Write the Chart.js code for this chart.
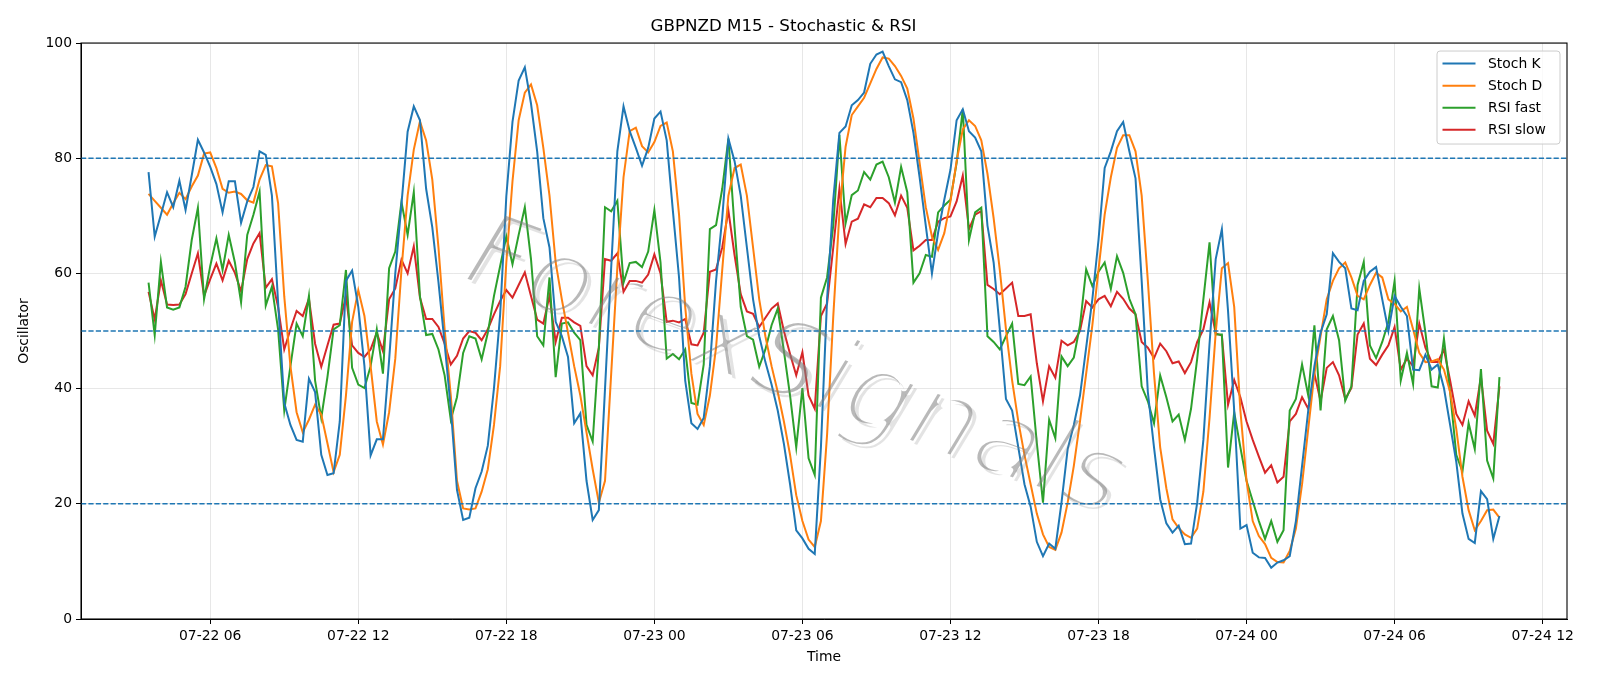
<!DOCTYPE html>
<html>
<head>
<meta charset="utf-8">
<script src="https://cdn.jsdelivr.net/npm/chart.js@4.4.1/dist/chart.umd.min.js"></script>
<style>
  html, body { margin: 0; padding: 0; background: #ffffff; }
  #wrap { width: 1600px; height: 686px; }
</style>
</head>
<body>
<div id="wrap"><canvas id="osc" width="1600" height="686"></canvas></div>
<script>
// time axis: 15 minute bars, hours counted from 07-22 00:00
const MONTH = "07";
const FIRST_DAY = 22;
const START_HOUR = 3.5;
const STEP_HOURS = 0.25;
const TICK_HOURS = [6, 12, 18, 24, 30, 36, 42, 48, 54, 60];
const Y_TICKS = [0, 20, 40, 60, 80, 100];
const LEVELS = [20, 50, 80];
const WATERMARK = "ForexSignals";

const stochK = [77.6,66.4,70.2,74.1,71.5,76.1,71.0,77.0,83.2,81.0, 78.5,75.5,70.6,76.0,76.0,68.8,72.5,75.0,81.2,80.6,
  73.5,55.0,37.5,33.7,31.1,30.8,41.7,39.4,28.5,25.0, 25.3,34.3,58.7,60.5,54.2,43.9,28.4,31.2,31.2,45.0,
  60.0,72.0,84.6,89.0,86.6,74.7,68.0,58.5,47.8,36.5, 22.4,17.2,17.6,22.7,25.6,30.1,40.1,52.9,73.4,86.3,
  93.5,95.8,89.5,81.2,69.6,64.5,51.6,49.1,45.5,34.0, 35.7,24.0,17.2,18.9,40.0,61.0,81.2,89.0,84.7,81.8,
  78.7,81.8,86.9,88.1,83.1,70.9,59.3,41.4,34.0,33.0, 34.9,43.9,58.7,69.6,83.4,79.5,73.5,64.5,55.5,49.1,
  44.6,40.7,36.2,30.4,23.4,15.4,14.0,12.2,11.3,29.8, 55.5,72.8,84.4,85.5,89.2,90.1,91.4,96.4,98.0,98.5,
  96.0,93.7,93.2,90.1,84.4,76.7,68.3,60.0,67.1,72.8, 78.0,86.6,88.5,84.7,83.6,81.2,68.3,61.9,50.3,38.2,
  36.2,29.8,23.4,19.5,13.4,10.9,13.1,12.2,20.2,29.5, 33.7,38.8,47.1,55.5,65.8,78.3,81.2,84.7,86.3,81.2,
  76.5,58.7,39.4,29.8,20.8,16.6,15.0,16.2,13.0,13.1, 20.2,31.1,47.8,62.5,67.7,53.5,36.2,15.7,16.3,11.5,
  10.7,10.6,8.9,9.8,10.2,10.9,17.0,26.6,36.2,43.9, 49.7,52.9,63.5,62.0,60.9,53.9,53.6,58.7,60.3,61.1,
  55.5,50.0,56.1,54.2,52.6,43.3,43.2,45.9,43.3,44.2, 40.1,33.7,27.3,18.3,13.9,13.2,22.2,20.8,13.9,17.9];

const stochD = [73.8,72.6,71.4,70.2,72.2,74.0,72.9,75.1,77.0,80.8, 81.0,78.3,74.7,74.0,74.2,73.8,72.7,72.3,76.3,78.8,
  78.6,72.2,56.0,43.9,35.9,32.4,34.6,37.2,35.5,30.5, 25.5,28.5,38.8,51.6,57.1,52.6,43.9,34.3,30.3,35.9,
  45.2,60.6,73.5,81.5,86.4,83.1,76.3,64.5,50.3,38.8, 24.0,19.2,19.0,19.2,22.1,26.0,33.7,43.9,61.9,76.0,
  86.6,91.4,92.8,89.2,81.8,73.5,61.9,55.5,49.7,43.9, 38.8,32.4,26.0,20.2,24.0,42.6,61.0,76.7,84.7,85.3,
  82.1,81.0,82.8,85.6,86.2,81.2,70.2,54.2,42.6,35.6, 33.7,38.8,47.1,60.6,73.5,78.3,78.9,73.5,64.5,55.5,
  49.1,43.9,39.4,34.3,28.5,21.5,17.0,13.8,12.5,17.0, 32.0,52.5,70.5,82.0,87.5,89.0,90.5,93.0,95.5,97.5,
  97.3,96.0,94.3,92.1,86.9,79.2,71.5,66.4,64.1,67.0, 72.5,79.5,85.0,86.6,85.6,83.1,77.3,69.6,60.6,50.3,
  41.4,34.3,28.5,23.4,18.3,14.7,12.5,12.0,15.0,20.2, 26.6,34.3,42.6,51.0,60.6,70.2,76.7,81.8,84.0,84.0,
  81.2,73.5,58.7,42.6,29.8,22.7,17.3,15.8,14.7,14.1, 15.7,22.1,34.9,49.7,60.9,61.8,54.2,36.2,24.0,17.0,
  14.4,13.0,10.6,9.9,9.8,11.8,15.7,23.4,33.0,42.6, 49.1,55.5,58.7,60.9,61.9,59.3,56.1,55.5,58.0,60.1,
  59.3,55.5,54.7,53.4,54.2,50.3,46.2,44.6,44.7,45.1, 43.3,39.4,33.0,24.7,18.9,15.4,17.0,18.9,19.0,17.6];

const rsiFast = [58.4,49.3,62.0,54.1,53.7,54.1,57.7,65.8,71.4,55.5, 61.3,66.1,60.6,66.7,61.9,55.0,66.7,70.2,74.2,54.4,
  57.7,50.3,36.2,43.9,51.3,49.1,56.1,41.4,34.9,42.0, 50.3,51.0,60.6,43.6,40.7,40.1,43.9,50.3,42.6,60.9,
  63.8,72.4,66.7,74.1,56.0,49.3,49.5,46.8,42.3,34.6, 38.5,46.2,49.1,48.7,45.1,49.7,56.1,61.3,66.4,61.6,
  66.7,71.5,62.5,49.1,47.5,59.3,42.0,51.3,51.5,49.7, 48.4,33.7,30.8,47.1,71.5,70.8,72.6,58.4,61.8,62.0,
  61.1,63.8,71.0,61.9,45.2,46.0,45.1,46.8,37.5,37.2, 44.2,67.7,68.4,74.7,83.4,68.0,54.2,49.1,48.5,43.8,
  46.8,51.0,53.9,46.5,38.8,29.8,40.1,27.9,25.0,55.8, 59.3,68.3,84.0,68.7,73.6,74.4,77.6,76.3,78.9,79.4,
  76.7,72.3,78.5,74.1,58.4,60.0,63.2,62.9,70.6,71.8, 72.8,79.2,88.5,65.8,70.6,71.4,49.1,48.1,46.8,49.1,
  51.3,40.8,40.6,42.1,30.6,20.2,34.6,31.4,45.6,43.9, 45.4,51.0,60.7,57.8,60.3,61.9,57.3,63.0,60.1,55.6,
  52.9,40.4,37.8,34.0,42.3,38.5,34.3,35.5,31.1,36.5, 45.2,55.5,65.4,49.4,49.4,26.3,35.9,29.8,24.0,20.5,
  17.0,13.9,17.0,13.4,15.4,36.2,38.2,44.2,38.8,51.0, 36.2,50.3,52.6,48.4,37.9,40.4,58.0,62.0,47.5,45.3,
  48.1,51.6,58.7,41.4,46.2,40.8,57.4,49.7,40.4,40.2, 48.7,39.4,28.5,25.6,34.0,29.5,43.4,27.5,24.4,42.0];

const rsiSlow = [56.8,52.0,58.8,54.6,54.5,54.6,56.4,60.0,63.5,56.1, 59.0,61.7,58.8,62.2,60.1,56.9,62.5,65.2,67.0,57.5,
  59.0,54.2,46.8,50.3,53.5,52.6,55.6,47.8,43.8,47.5, 51.1,51.3,56.1,47.5,46.2,45.5,46.8,49.7,46.5,55.5,
  57.4,62.4,60.0,64.7,55.8,52.1,52.1,50.7,47.8,44.2, 45.7,48.7,50.0,49.7,48.4,50.3,52.9,55.2,57.1,55.8,
  58.0,60.2,56.1,52.0,51.3,56.1,48.1,52.3,52.3,51.5, 50.9,43.9,42.3,47.1,62.5,62.2,63.5,56.8,58.7,58.7,
  58.4,59.8,63.3,60.0,51.6,51.8,51.5,52.1,47.7,47.5, 49.7,60.3,60.7,64.5,70.9,63.2,56.4,53.4,53.0,50.7,
  52.3,53.9,54.8,50.0,46.0,42.3,46.3,38.8,36.5,52.6, 54.8,64.5,74.7,65.1,69.0,69.5,72.0,71.5,73.1,73.1,
  72.2,70.1,73.5,71.4,64.0,64.8,65.8,65.8,69.0,69.6, 69.9,72.5,77.0,67.7,70.2,70.8,58.0,57.3,56.4,57.4,
  58.4,52.6,52.6,52.9,44.4,37.8,43.9,41.9,48.3,47.5, 48.1,50.0,55.2,54.1,55.5,56.1,54.3,56.8,55.6,53.9,
  52.9,48.1,47.1,45.3,47.8,46.5,44.4,44.7,42.7,44.6, 48.1,50.3,55.0,49.6,49.2,37.2,41.5,38.5,34.3,31.1,
  28.2,25.4,26.7,23.7,24.7,34.3,35.6,38.5,36.5,42.6, 37.8,43.6,44.6,42.3,38.2,40.1,49.4,51.3,45.2,44.1,
  45.9,47.5,50.7,43.3,45.2,43.9,51.3,47.1,44.6,44.6, 46.8,41.4,35.6,33.7,37.8,35.3,42.0,32.7,30.4,40.4];

const hours = stochK.map((_, i) => START_HOUR + i * STEP_HOURS);
const span = hours[hours.length - 1] - hours[0];
const xMin = hours[0] - 0.05 * span;
const xMax = hours[hours.length - 1] + 0.05 * span;

function pts(values) {
  return values.map((v, i) => ({ x: hours[i], y: v }));
}

function tickLabel(h) {
  const day = FIRST_DAY + Math.floor(h / 24);
  const hh = h % 24;
  return MONTH + "-" + day + " " + String(hh).padStart(2, "0");
}

Chart.defaults.font.family = "'DejaVu Sans', sans-serif";
Chart.defaults.color = "#000";

// thin grey text with a soft shadow, laid over the lines
function drawWatermark(chart) {
  const { ctx, chartArea: a } = chart;
  const w = chart.width, h = chart.height;
  const mask = document.createElement("canvas");
  mask.width = w; mask.height = h;
  const m = mask.getContext("2d");
  m.translate(a.left + 0.48 * (a.right - a.left), a.top + 0.57 * (a.bottom - a.top));
  m.rotate(20 * Math.PI / 180);
  m.font = "italic 108px 'DejaVu Sans'";
  m.textAlign = "center";
  m.textBaseline = "middle";
  m.fillStyle = "#000";
  m.fillText(WATERMARK, 0, 0);
  m.globalCompositeOperation = "destination-out";
  m.lineWidth = 6.5;
  m.lineJoin = "round";
  m.strokeText(WATERMARK, 0, 0);

  const tint = (color) => {
    const c = document.createElement("canvas");
    c.width = w; c.height = h;
    const t = c.getContext("2d");
    t.drawImage(mask, 0, 0);
    t.globalCompositeOperation = "source-in";
    t.fillStyle = color;
    t.fillRect(0, 0, w, h);
    return c;
  };
  ctx.save();
  ctx.beginPath();
  ctx.rect(a.left, a.top, a.right - a.left, a.bottom - a.top);
  ctx.clip();
  ctx.drawImage(tint("rgba(128,128,128,0.22)"), 4, 4);
  ctx.drawImage(tint("rgba(128,128,128,0.55)"), 0, 0);
  ctx.restore();
}

const decor = {
  id: "decor",
  afterDatasetsDraw(chart) {
    const { ctx, chartArea: a, scales } = chart;
    drawWatermark(chart);

    // reference levels
    ctx.save();
    ctx.strokeStyle = "#1f77b4";
    ctx.lineWidth = 1.4;
    ctx.setLineDash([5.2, 2.2]);
    LEVELS.forEach(lv => {
      const y = scales.y.getPixelForValue(lv);
      ctx.beginPath();
      ctx.moveTo(a.left, y);
      ctx.lineTo(a.right, y);
      ctx.stroke();
    });
    ctx.restore();

    // frame
    ctx.save();
    ctx.strokeStyle = "#000";
    ctx.lineWidth = 1.1;
    ctx.strokeRect(a.left, a.top, a.right - a.left, a.bottom - a.top);
    ctx.restore();

    // legend box, upper right
    const sets = chart.data.datasets;
    const bw = 123, bh = 93;
    const bx = a.right - 7 - bw, by = a.top + 8;
    ctx.save();
    ctx.beginPath();
    ctx.roundRect(bx, by, bw, bh, 3);
    ctx.fillStyle = "rgba(255,255,255,0.8)";
    ctx.fill();
    ctx.strokeStyle = "#cccccc";
    ctx.lineWidth = 1;
    ctx.stroke();
    ctx.font = "13.9px 'DejaVu Sans'";
    ctx.textBaseline = "middle";
    ctx.fillStyle = "#000";
    sets.forEach((ds, k) => {
      const y = by + 12.5 + k * 22.1;
      ctx.strokeStyle = ds.borderColor;
      ctx.lineWidth = 2;
      ctx.beginPath();
      ctx.moveTo(bx + 5.5, y);
      ctx.lineTo(bx + 38.5, y);
      ctx.stroke();
      ctx.fillText(ds.label, bx + 51, y + 1);
    });
    ctx.restore();
  }
};

const lineSet = (label, values, color) => ({
  label,
  data: pts(values),
  borderColor: color,
  backgroundColor: color,
  borderWidth: 2,
  pointRadius: 0,
  tension: 0,
  fill: false
});

new Chart(document.getElementById("osc").getContext("2d"), {
  type: "line",
  data: {
    datasets: [
      lineSet("Stoch K", stochK, "#1f77b4"),
      lineSet("Stoch D", stochD, "#ff7f0e"),
      lineSet("RSI fast", rsiFast, "#2ca02c"),
      lineSet("RSI slow", rsiSlow, "#d62728")
    ]
  },
  options: {
    responsive: false,
    animation: false,
    layout: { padding: { left: 0, right: 33, top: 0, bottom: 0 } },
    plugins: {
      legend: { display: false },
      tooltip: { enabled: false },
      title: {
        display: true,
        text: "GBPNZD M15 - Stochastic & RSI",
        font: { size: 16.7, weight: "normal" },
        color: "#000",
        padding: { top: 16.5, bottom: 6.5 }
      }
    },
    scales: {
      x: {
        type: "linear",
        min: xMin,
        max: xMax,
        afterBuildTicks: axis => { axis.ticks = TICK_HOURS.map(v => ({ value: v })); },
        afterFit: axis => { axis.height = 67; },
        ticks: {
          callback: v => tickLabel(v),
          font: { size: 13.9 },
          color: "#000",
          padding: 4,
          maxRotation: 0,
          autoSkip: false
        },
        grid: { color: "rgba(176,176,176,0.3)", lineWidth: 1, tickLength: 5, tickColor: "#000", tickWidth: 1 },
        border: { display: true, color: "#000", width: 1 },
        title: { display: true, text: "Time", font: { size: 13.9 }, color: "#000", padding: { top: 0, bottom: 20.7 } }
      },
      y: {
        min: 0,
        max: 100,
        afterBuildTicks: axis => { axis.ticks = Y_TICKS.map(v => ({ value: v })); },
        afterFit: axis => { axis.width = 81; },
        ticks: { font: { size: 13.9 }, color: "#000", padding: 4 },
        grid: { color: "rgba(176,176,176,0.3)", lineWidth: 1, tickLength: 5, tickColor: "#000", tickWidth: 1 },
        border: { display: true, color: "#000", width: 1 },
        title: { display: true, text: "Oscillator", font: { size: 13.9 }, color: "#000", padding: { top: 16.2, bottom: 0 } }
      }
    }
  },
  plugins: [decor]
});
</script>
</body>
</html>
